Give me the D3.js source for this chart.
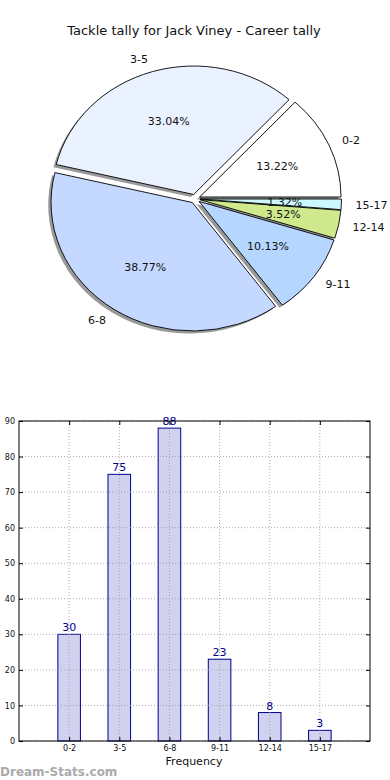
<!DOCTYPE html>
<html><head><meta charset="utf-8">
<script src="https://cdn.jsdelivr.net/npm/d3@7/dist/d3.min.js"></script>
<style>body{margin:0;background:#fff}svg{display:block}text{font-family:"DejaVu Sans",sans-serif}</style>
</head><body>
<script>
const categories = ["0-2","3-5","6-8","9-11","12-14","15-17"];
const values = [30,75,88,23,8,3];
const pieColors = ["#ffffff","#eaf2ff","#c5d8ff","#b5d6ff","#cfe98c","#ccf7ff"];
const yTicks = [0,10,20,30,40,50,60,70,80,90];
const title = "Tackle tally for Jack Viney - Career tally";

const W=390,H=780;
const svg=d3.select("body").append("svg").attr("width",W).attr("height",H);

svg.append("text").attr("x",194).attr("y",35).attr("text-anchor","middle")
  .attr("font-size",13).attr("fill","#111").text(title);

// ---- Pie ----
const cx=195.1, cy=198.8, rx=141.4, ry=128.5, expl=0.035;
const total=d3.sum(values);
const pie=d3.pie().sort(null).startAngle(Math.PI/2).endAngle(Math.PI/2-2*Math.PI);
const arcs=pie(values);
const arc=d3.arc().innerRadius(0).outerRadius(1);
const pg=svg.append("g");
arcs.forEach((a,i)=>{
  const m=(a.startAngle+a.endAngle)/2;
  const ox=cx+expl*Math.sin(m)*rx, oy=cy-expl*Math.cos(m)*ry;
  pg.append("path").attr("d",arc(a))
    .attr("transform",`translate(${ox-2.8},${oy+2.6}) scale(${rx},${ry})`)
    .attr("fill","#000").attr("opacity",0.4).attr("stroke","none");
});
arcs.forEach((a,i)=>{
  const m=(a.startAngle+a.endAngle)/2;
  const ox=cx+expl*Math.sin(m)*rx, oy=cy-expl*Math.cos(m)*ry;
  pg.append("path").attr("d",arc(a))
    .attr("transform",`translate(${ox},${oy}) scale(${rx},${ry})`)
    .attr("fill",pieColors[i]).attr("stroke","#000").attr("stroke-width",0.9)
    .attr("vector-effect","non-scaling-stroke").attr("stroke-linejoin","round");
});
arcs.forEach((a,i)=>{
  const m=(a.startAngle+a.endAngle)/2;
  const ox=cx+expl*Math.sin(m)*rx, oy=cy-expl*Math.cos(m)*ry;
  const lx=ox+1.1*Math.sin(m)*rx, ly=oy-1.1*Math.cos(m)*ry;
  pg.append("text").attr("x",lx).attr("y",ly).attr("dy","0.35em")
    .attr("text-anchor",Math.sin(m)>0?"start":"end")
    .attr("font-size",11).attr("fill","#111").text(categories[i]);
  const px=ox+0.6*Math.sin(m)*rx, py=oy-0.6*Math.cos(m)*ry;
  pg.append("text").attr("x",px).attr("y",py).attr("dy","0.35em")
    .attr("text-anchor","middle").attr("font-size",11).attr("fill","#111")
    .text((values[i]/total*100).toFixed(2)+"%");
});

// ---- Bar ----
const L=19,R=370,T=421,B=741;
const x=d3.scaleLinear().domain([-1,categories.length]).range([L,R]);
const y=d3.scaleLinear().domain([0,90]).range([B,T]);
const bg=svg.append("g");
// bars
const bw=(x(0.45)-x(0));
bg.selectAll(".bar").data(values).enter().append("rect")
  .attr("x",(d,i)=>x(i)-bw/2).attr("width",bw)
  .attr("y",d=>y(d)).attr("height",d=>B-y(d))
  .attr("fill","#ccccee").attr("fill-opacity",0.9).attr("stroke","#00008b").attr("stroke-width",1);
// grid (drawn above bars)
bg.selectAll(".vg").data(categories).enter().append("line")
  .attr("x1",(d,i)=>x(i)).attr("x2",(d,i)=>x(i)).attr("y1",T).attr("y2",B)
  .attr("stroke","#999").attr("stroke-opacity",0.8).attr("stroke-width",1).attr("stroke-dasharray","1,2");
bg.selectAll(".hg").data(yTicks).enter().append("line")
  .attr("x1",L).attr("x2",R).attr("y1",d=>y(d)).attr("y2",d=>y(d))
  .attr("stroke","#999").attr("stroke-opacity",0.8).attr("stroke-width",1).attr("stroke-dasharray","1,2");
// value labels
bg.selectAll(".vl").data(values).enter().append("text")
  .attr("x",(d,i)=>x(i)).attr("y",d=>y(d)-3).attr("text-anchor","middle")
  .attr("font-size",11).attr("fill","#00008b").text(d=>d);
// frame
bg.append("rect").attr("x",L).attr("y",T).attr("width",R-L).attr("height",B-T)
  .attr("fill","none").attr("stroke","#000").attr("stroke-width",1);
// axes with inward ticks
const yAxisL=d3.axisLeft(y).tickValues(yTicks).tickSize(-4).tickPadding(4);
const gL=bg.append("g").attr("transform",`translate(${L},0)`).call(yAxisL);
gL.select(".domain").remove();
gL.selectAll("text").attr("font-size",8).attr("fill","#111").attr("font-family","'DejaVu Sans Condensed','DejaVu Sans',sans-serif");
const yAxisR=d3.axisRight(y).tickValues(yTicks).tickSize(-4).tickFormat("");
const gR=bg.append("g").attr("transform",`translate(${R},0)`).call(yAxisR);
gR.select(".domain").remove();
const xAxisB=d3.axisBottom(x).tickValues(d3.range(categories.length)).tickFormat(i=>categories[i]).tickSize(-4).tickPadding(4);
const gB=bg.append("g").attr("transform",`translate(0,${B})`).call(xAxisB);
gB.select(".domain").remove();
gB.selectAll("text").attr("font-size",8).attr("fill","#111").attr("font-family","'DejaVu Sans Condensed','DejaVu Sans',sans-serif");
const xAxisT=d3.axisTop(x).tickValues(d3.range(categories.length)).tickFormat("").tickSize(-4);
const gT=bg.append("g").attr("transform",`translate(0,${T})`).call(xAxisT);
gT.select(".domain").remove();
bg.selectAll(".tick line").attr("stroke","#000");
svg.append("text").attr("x",194).attr("y",765).attr("text-anchor","middle")
  .attr("font-size",11).attr("fill","#111").text("Frequency");
svg.append("text").attr("x",0).attr("y",776).attr("font-size",12).attr("font-weight","bold")
  .attr("fill","#aaa").text("Dream-Stats.com");
</script>
</body></html>
